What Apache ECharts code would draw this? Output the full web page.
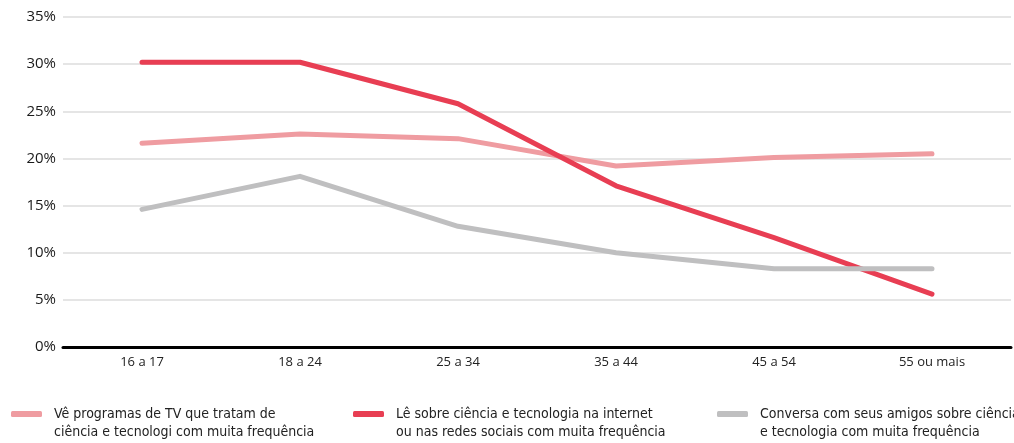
<!DOCTYPE html>
<html>
<head>
<meta charset="utf-8">
<script src="https://cdn.jsdelivr.net/npm/echarts@6/dist/echarts.min.js"></script>
<style>
  html, body { margin: 0; padding: 0; background: #fff; }
  #chart { width: 1014px; height: 443px; }
</style>
</head>
<body>
<div id="chart"></div>
<script>
// faixas etarias
var faixas = ['16 a 17', '18 a 24', '25 a 34', '35 a 44', '45 a 54', '55 ou mais'];
var tv = [21.6, 22.6, 22.1, 19.2, 20.1, 20.5];
var internet = [30.2, 30.2, 25.8, 17.1, 11.6, 5.6];
var amigos = [14.6, 18.1, 12.8, 10.0, 8.3, 8.3];
var yTicks = [0, 5, 10, 15, 20, 25, 30, 35];

var nomes = [
    'Vê programas de TV que tratam de\nciência e tecnologi com muita frequência',
    'Lê sobre ciência e tecnologia na internet\nou nas redes sociais com muita frequência',
    'Conversa com seus amigos sobre ciência\ne tecnologia com muita frequência'
];
var cores = ['#ef9ca1', '#e83e53', '#bfbfc0'];
var fonte = '"Liberation Sans Narrow", "DejaVu Sans Condensed", sans-serif';
var fonteEixo = '"Open Sans", sans-serif';

var myChart = echarts.init(document.getElementById('chart'));

function legenda(i, left) {
    return {
        data: [nomes[i]],
        left: left,
        top: 387,
        padding: 0,
        itemWidth: 31,
        itemHeight: 6,
        icon: 'roundRect',
        formatter: function (name) {
            // linha vazia em cima para o icone ficar na altura da 1a linha
            var linhas = name.split('\n');
            return ' \n{t|' + linhas[0] + '}\n{t|' + linhas[1] + '}';
        },
        textStyle: {
            color: '#222',
            fontSize: 14,
            fontFamily: fonte,
            lineHeight: 18,
            rich: {
                t: {
                    color: '#222',
                    fontSize: 14,
                    fontFamily: fonte,
                    lineHeight: 18,
                    padding: [0, 0, 0, 7]
                }
            }
        }
    };
}

function serie(i, dados) {
    return {
        name: nomes[i],
        type: 'line',
        data: dados,
        symbol: 'none',
        color: cores[i],
        lineStyle: { width: 5, color: cores[i], cap: 'round', join: 'round' },
        z: 2 + i
    };
}

var option = {
    backgroundColor: '#fff',
    animation: false,
    grid: {
        left: 63,
        right: 3,
        top: 17,
        bottom: 96
    },
    legend: [
        legenda(0, 11),
        legenda(1, 353),
        legenda(2, 717)
    ],
    xAxis: {
        type: 'category',
        data: faixas,
        boundaryGap: true,
        axisLine: { show: true, lineStyle: { color: '#000', width: 3 } },
        axisTick: { show: false },
        axisLabel: { color: '#222', fontSize: 13, margin: 9, fontFamily: fonteEixo },
        splitLine: { show: false }
    },
    yAxis: {
        type: 'value',
        min: yTicks[0],
        max: yTicks[yTicks.length - 1],
        interval: 5,
        axisLine: { show: false },
        axisTick: { show: false },
        axisLabel: { color: '#1a1a1a', fontSize: 15, margin: 7, fontFamily: fonteEixo, formatter: '{value}%' },
        splitLine: { lineStyle: { color: '#dcdcdc', width: 1.5 } }
    },
    series: [
        serie(0, tv),
        serie(2, amigos),
        serie(1, internet)
    ]
};
myChart.setOption(option);
</script>
</body>
</html>
